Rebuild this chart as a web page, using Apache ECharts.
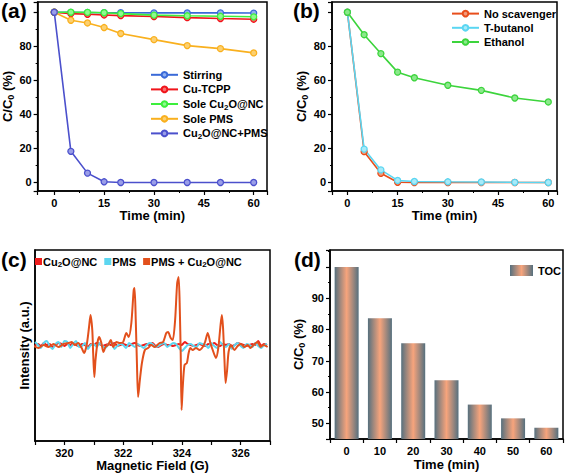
<!DOCTYPE html>
<html><head><meta charset="utf-8">
<script src="https://cdn.jsdelivr.net/npm/echarts@6/dist/echarts.min.js"></script>
<style>html,body{margin:0;padding:0;background:#fff}#c{width:567px;height:474px}</style>
</head><body><div id="c"></div>
<script>
// ---------- DATA ----------
const timeA = [0, 5, 10, 15, 20, 30, 40, 50, 60];
const stirring = [100, 99.9, 99.8, 99.7, 99.7, 99.6, 99.6, 99.6, 99.5];
const cuTCPP = [100, 99.2, 98.8, 98.4, 98.0, 97.5, 96.8, 96.3, 95.9];
const soleCu2O = [100, 100, 99.9, 99.7, 99.2, 98.3, 97.9, 97.6, 97.3];
const solePMS = [100, 95.3, 93.7, 91.0, 87.5, 83.9, 80.4, 78.6, 76.1];
const cu2oPMS = [100, 18.3, 5.5, 0.4, 0, 0, 0, 0, 0];

const timeB = [0, 5, 10, 15, 20, 30, 40, 50, 60];
const noScavenger = [100, 18.1, 5.4, 0.1, 0, 0, 0, 0, 0];
const tButanol = [100, 19.6, 7.4, 1.2, 0.6, 0.4, 0.3, 0.1, 0];
const ethanol = [100, 86.8, 75.7, 64.8, 61.5, 57.1, 54.1, 49.6, 47.3];

// ESR (c): baseline series sampled field (G)
const fieldBase = [319.0,319.1,319.2,319.3,319.4,319.5,319.6,319.7,319.8,319.9,
  320.0,320.1,320.2,320.3,320.4,320.5,320.6,320.7,320.8,320.9,
  321.0,321.1,321.2,321.3,321.4,321.5,321.6,321.7,321.8,321.9,
  322.0,322.1,322.2,322.3,322.4,322.5,322.6,322.7,322.8,322.9,
  323.0,323.1,323.2,323.3,323.4,323.5,323.6,323.7,323.8,323.9,
  324.0,324.1,324.2,324.3,324.4,324.5,324.6,324.7,324.8,324.9,
  325.0,325.1,325.2,325.3,325.4,325.5,325.6,325.7,325.8,325.9,
  326.0,326.1,326.2,326.3,326.4,326.5,326.6,326.7,326.8,326.9];
const esrCu2O = [1,2,0,3,1,2,-1,1,3,2, 0,2,1,3,1,0,2,1,-1,2, 1,3,2,0,1,2,1,3,0,1,
  2,1,0,2,3,1,0,1,2,1, 3,0,-1,1,2,1,1,0,1,2, 1,4,2,1,0,1,2,1,0,2,
  1,3,1,0,2,1,2,0,1,3, 2,1,0,1,2,1,5,0,2,1];
const esrPMS = [4,1,-2,3,5,0,-3,2,4,-1, 5,4,-2,2,5,-1,0,3,-3,1, 2,-1,3,0,-2,2,4,-3,0,2,
  1,-2,3,1,-1,2,0,-2,1,3, 2,-1,0,2,3,-1,1,3,2,-2, -5,-2,1,2,0,-1,3,2,1,-2,
  3,0,-2,4,1,-1,2,-3,1,3, 0,-2,2,1,-1,3,0,-2,1,2];
const fieldMix = [318.95,319.12,319.29,319.46,319.63,319.80,319.97,320.14,320.25,320.36,
  320.47,320.59,320.67,320.76,320.84,320.89,320.95,320.98,321.02,321.06,
  321.13,321.19,321.26,321.33,321.40,321.49,321.58,321.66,321.77,321.89,
  322.00,322.11,322.19,322.28,322.36,322.39,322.43,322.47,322.51,322.57,
  322.64,322.74,322.85,322.96,323.07,323.24,323.36,323.47,323.53,323.62,
  323.69,323.77,323.84,323.89,323.93,323.96,323.99,324.03,324.09,324.17,
  324.23,324.29,324.37,324.48,324.60,324.71,324.79,324.88,324.97,325.05,
  325.16,325.24,325.31,325.36,325.40,325.45,325.49,325.54,325.59,325.67,
  325.79,325.90,326.01,326.13,326.24,326.34,326.44,326.58,326.68,326.78,326.92];
const esrMix = [0,-2,1,-1,2,-1,2,3,4,1,
  3,-2,-7,1,19,31,16,-7,-31,-14,
  4,9,3,-6,-1,1,6,-1,4,3,
  4,13,9,23,56,58,26,-17,-51,-34,
  -17,-4,-2,1,-1,3,4,13,14,8,
  6,26,63,69,36,-7,-64,-41,-19,-17,
  -7,-2,-4,-2,-4,-1,4,13,3,-4,
  -12,-2,19,31,19,-14,-37,-24,-6,1,
  -4,0,2,-1,1,-2,1,4,-1,1,-1];

const tocTimes = ['0', '10', '20', '30', '40', '50', '60'];
const toc = [100, 83.6, 75.6, 63.8, 56.0, 51.6, 48.6];

// ---------- STYLE ----------
const FF = '"Liberation Sans", Arial, sans-serif';
const tickFont = {fontFamily: FF, fontWeight: 'bold', fontSize: 11, color: '#000'};
const subRich = {s: {fontFamily: FF, fontWeight: 'bold', fontSize: 8, padding: [6, 0, 0, 0], color: '#000'}};
const axisLine = {show: true, onZero: false, lineStyle: {color: '#000', width: 1.5}};
const axisTick = {show: true, inside: false, length: 4, lineStyle: {color: '#000', width: 1.2}};
const minorTick = {show: true, splitNumber: 2, length: 2, lineStyle: {color: '#000', width: 1}};
const nameStyle = {fontFamily: FF, fontWeight: 'bold', fontSize: 13, color: '#000', rich: {s: {fontFamily: FF, fontWeight: 'bold', fontSize: 9, padding: [7, 0, 0, 0], color: '#000'}}};
const gridBox = {show: true, borderColor: '#000', borderWidth: 1.5, containLabel: false};
const sub = n => n.replace('Cu2O', 'Cu{s|2}O');

function pairs(xs, ys) { return xs.map((x, i) => [x, ys[i]]); }
function lineSeries(name, color, fill, xi, xs, ys) {
  return {name, type: 'line', xAxisIndex: xi, yAxisIndex: xi, data: pairs(xs, ys),
    symbol: 'circle', symbolSize: 6, lineStyle: {color, width: 1.6},
    itemStyle: {color: fill, borderColor: color, borderWidth: 1.3}, color, animation: false};
}
const pctFmt = v => (v >= 0 && v < 100 && v % 20 === 0) ? String(v) : '';

const option = {
  animation: false,
  title: [
    {text: '(a)', left: 1, top: 0},
    {text: '(b)', left: 293, top: 0},
    {text: '(c)', left: 1, top: 249},
    {text: '(d)', left: 294, top: 249}
  ].map(t => Object.assign(t, {padding: 0, textStyle: {fontFamily: FF, fontWeight: 'bold', fontSize: 21, color: '#000'}})),
  grid: [
    Object.assign({left: 35, top: 2, width: 232, height: 189}, gridBox),
    Object.assign({left: 332, top: 2, width: 225, height: 189}, gridBox),
    Object.assign({left: 35, top: 250, width: 235, height: 191}, gridBox),
    Object.assign({left: 330, top: 250, width: 233, height: 189}, gridBox)
  ],
  legend: [
    {data: ['Stirring', 'Cu-TCPP', 'Sole Cu2O@NC', 'Sole PMS', 'Cu2O@NC+PMS'], orient: 'vertical', left: 150, top: 68,
      itemWidth: 27, itemHeight: 7, itemGap: 1, padding: 0, formatter: sub,
      textStyle: {fontFamily: FF, fontWeight: 'bold', fontSize: 11, color: '#000', lineHeight: 13.6, rich: subRich}},
    {data: ['No scavenger', 'T-butanol', 'Ethanol'], orient: 'vertical', left: 451, top: 7,
      itemWidth: 27, itemHeight: 7, itemGap: 1, padding: 0,
      textStyle: {fontFamily: FF, fontWeight: 'bold', fontSize: 11, color: '#000', lineHeight: 13.2}},
    {data: ['Cu2O@NC', 'PMS', 'PMS + Cu2O@NC'], orient: 'horizontal', left: 35, top: 255,
      itemWidth: 7, itemHeight: 7, itemGap: 7, padding: 0, icon: 'rect', formatter: sub,
      textStyle: {fontFamily: FF, fontWeight: 'bold', fontSize: 11, color: '#000', lineHeight: 13, padding: [0, 0, 0, -4], rich: subRich}},
    {data: ['TOC'], left: 510, top: 265, itemWidth: 23, itemHeight: 11, padding: 0, icon: 'rect',
      textStyle: {fontFamily: FF, fontWeight: 'bold', fontSize: 11, color: '#000'}}
  ],
  xAxis: [
    {gridIndex: 0, type: 'value', min: -5, max: 64, minInterval: 15, maxInterval: 15, axisLine, axisTick, minorTick,
      splitLine: {show: false}, axisLabel: Object.assign({margin: 6, formatter: v => (v >= 0 && v % 15 === 0) ? String(v) : ''}, tickFont),
      name: 'Time (min)', nameLocation: 'middle', nameGap: 18, nameTextStyle: nameStyle},
    {gridIndex: 1, type: 'value', min: -4.6, max: 62.6, minInterval: 15, maxInterval: 15, axisLine, axisTick, minorTick,
      splitLine: {show: false}, axisLabel: Object.assign({margin: 6, formatter: v => (v >= 0 && v % 15 === 0) ? String(v) : ''}, tickFont),
      name: 'Time (min)', nameLocation: 'middle', nameGap: 18, nameTextStyle: nameStyle},
    {gridIndex: 2, type: 'value', min: 319, max: 327, interval: 1, axisLine, axisTick,
      splitLine: {show: false}, axisLabel: Object.assign({margin: 6, formatter: v => (v % 2 === 0 && v > 319 && v < 327) ? String(v) : ''}, tickFont),
      name: 'Magnetic Field (G)', nameLocation: 'middle', nameGap: 18, nameTextStyle: nameStyle},
    {gridIndex: 3, type: 'category', data: tocTimes, axisLine, axisTick: Object.assign({alignWithLabel: false}, axisTick),
      axisLabel: Object.assign({margin: 6}, tickFont),
      name: 'Time (min)', nameLocation: 'middle', nameGap: 19, nameTextStyle: nameStyle}
  ],
  yAxis: [
    {gridIndex: 0, type: 'value', min: -5, max: 106, minInterval: 20, maxInterval: 20, axisLine, axisTick, minorTick,
      splitLine: {show: false}, axisLabel: Object.assign({margin: 6, formatter: pctFmt}, tickFont),
      name: 'C/C{s|0} (%)', nameLocation: 'middle', nameGap: 17, nameTextStyle: nameStyle},
    {gridIndex: 1, type: 'value', min: -5, max: 106, minInterval: 20, maxInterval: 20, axisLine, axisTick, minorTick,
      splitLine: {show: false}, axisLabel: Object.assign({margin: 6, formatter: pctFmt}, tickFont),
      name: 'C/C{s|0} (%)', nameLocation: 'middle', nameGap: 17, nameTextStyle: nameStyle},
    {gridIndex: 2, type: 'value', min: -95, max: 96, axisLine, axisTick: {show: false}, axisLabel: {show: false},
      splitLine: {show: false},
      name: 'Intensity (a.u.)', nameLocation: 'middle', nameGap: 4, nameTextStyle: nameStyle},
    {gridIndex: 3, type: 'value', min: 45, max: 105.4, minInterval: 10, maxInterval: 10, axisLine, axisTick, minorTick,
      splitLine: {show: false}, axisLabel: Object.assign({margin: 6, formatter: v => (v >= 50 && v <= 90 && v % 10 === 0) ? String(v) : ''}, tickFont),
      name: 'C/C{s|0} (%)', nameLocation: 'middle', nameGap: 24, nameTextStyle: nameStyle}
  ],
  series: [
    lineSeries('Stirring', '#3a6ad8', '#8fb0f0', 0, timeA, stirring),
    lineSeries('Cu-TCPP', '#f0141a', '#f87070', 0, timeA, cuTCPP),
    lineSeries('Sole Cu2O@NC', '#3cef3c', '#90f890', 0, timeA, soleCu2O),
    lineSeries('Sole PMS', '#f9b01e', '#fcd070', 0, timeA, solePMS),
    lineSeries('Cu2O@NC+PMS', '#4b50cc', '#9a9ee8', 0, timeA, cu2oPMS),
    lineSeries('No scavenger', '#e84e1c', '#f29a7a', 1, timeB, noScavenger),
    lineSeries('T-butanol', '#5ad6f2', '#a8eaf8', 1, timeB, tButanol),
    lineSeries('Ethanol', '#3cd43c', '#8ce88c', 1, timeB, ethanol),
    {name: 'Cu2O@NC', type: 'line', xAxisIndex: 2, yAxisIndex: 2, data: pairs(fieldBase, esrCu2O), showSymbol: false,
      color: '#ee1c1c', lineStyle: {color: '#ee1c1c', width: 2}, smooth: 0.2},
    {name: 'PMS', type: 'line', xAxisIndex: 2, yAxisIndex: 2, data: pairs(fieldBase, esrPMS), showSymbol: false,
      color: '#5cd6f0', lineStyle: {color: '#5cd6f0', width: 2}, smooth: 0.2},
    {name: 'PMS + Cu2O@NC', type: 'line', xAxisIndex: 2, yAxisIndex: 2, data: pairs(fieldMix, esrMix), showSymbol: false,
      color: '#e2501c', lineStyle: {color: '#e2501c', width: 2}, smooth: 0.25},
    {name: 'TOC', type: 'bar', xAxisIndex: 3, yAxisIndex: 3, data: toc, barWidth: 24,
      itemStyle: {color: {type: 'linear', x: 0, y: 0, x2: 1, y2: 0, colorStops: [
        {offset: 0, color: '#56707e'}, {offset: 0.5, color: '#f7a47c'}, {offset: 1, color: '#56707e'}]}}}
  ]
};
const chart = echarts.init(document.getElementById('c'), null, {renderer: 'svg'});
chart.setOption(option);
</script></body></html>
